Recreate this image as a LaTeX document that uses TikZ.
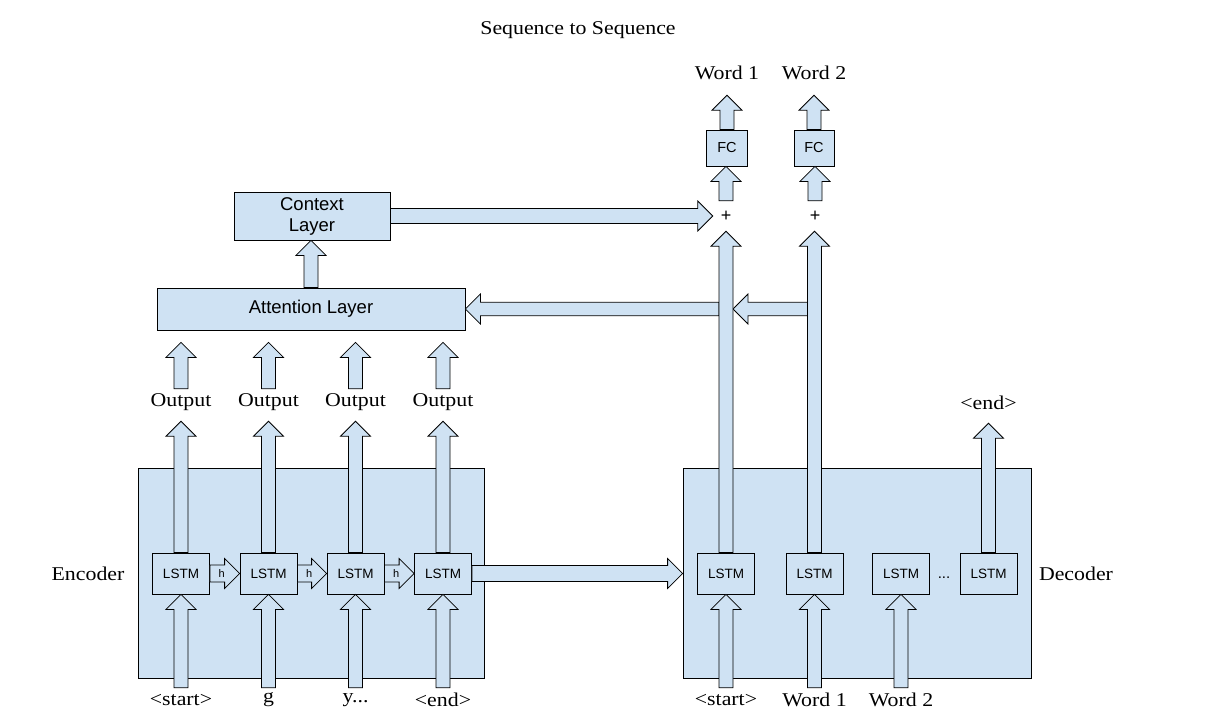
\documentclass[tikz,border=0pt]{standalone}
\usepackage{fontspec}
\setmainfont[FakeStretch=1.12]{Liberation Serif}
\setsansfont{Liberation Sans}
\usetikzlibrary{calc}
\definecolor{lb}{HTML}{CFE2F3}
\tikzset{
  fat/.style={draw=black, fill=lb, line width=0.8pt, line join=miter},
  region/.style={draw=black, fill=lb, line width=0.8pt, inner sep=0pt},
  block/.style={draw=black, fill=lb, line width=0.8pt, inner sep=0pt, align=center,
    font=\sffamily\fontsize{18.5}{21}\selectfont},
  lstm/.style={draw=black, fill=lb, line width=0.8pt, inner sep=0pt,
    minimum width=57pt, minimum height=41pt, font=\sffamily\fontsize{13.5}{15}\selectfont},
  fcbox/.style={draw=black, fill=lb, line width=0.8pt, inner sep=0pt,
    minimum width=41pt, minimum height=36pt, font=\sffamily\fontsize{14.5}{16}\selectfont},
  lbl/.style={inner sep=0pt, font=\fontsize{19.5}{22}\selectfont},
  small/.style={inner sep=0pt, font=\sffamily\fontsize{11}{12}\selectfont},
  plus/.style={inner sep=0pt, minimum width=26pt, minimum height=30pt,
    font=\sffamily\fontsize{18}{19}\selectfont},
}
\newcommand\fatup[3][7]{\draw[fat] let \p1=(#2), \p2=(#3) in
  (\x1-#1pt,\y1) -- (\x1-#1pt,\y2-15pt) -- (\x1-15pt,\y2-15pt) -- (\x1,\y2) --
  (\x1+15pt,\y2-15pt) -- (\x1+#1pt,\y2-15pt) -- (\x1+#1pt,\y1) -- cycle;}
\newcommand\fatright[3][8]{\draw[fat] let \p1=(#2), \p2=(#3) in
  (\x1,\y1+#1pt) -- (\x2-15pt,\y1+#1pt) -- (\x2-15pt,\y1+15pt) -- (\x2,\y1) --
  (\x2-15pt,\y1-15pt) -- (\x2-15pt,\y1-#1pt) -- (\x1,\y1-#1pt) -- cycle;}
\newcommand\fatleft[3][7]{\draw[fat] let \p1=(#2), \p2=(#3) in
  (\x1,\y1+#1pt) -- (\x2+15pt,\y1+#1pt) -- (\x2+15pt,\y1+15pt) -- (\x2,\y1) --
  (\x2+15pt,\y1-15pt) -- (\x2+15pt,\y1-#1pt) -- (\x1,\y1-#1pt) -- cycle;}
\begin{document}
\begin{tikzpicture}[x=1pt,y=-1pt]
\useasboundingbox (0,0) rectangle (1221,721);
\fill[white] (0,0) rectangle (1221,721);

% title
\node[lbl] (title) at (578,30) {Sequence to Sequence};

% encoder / decoder regions
\node[region, minimum width=346pt, minimum height=210pt] (enc) at (311,573) {};
\node[region, minimum width=348pt, minimum height=210pt] (dec) at (857,573) {};
\node[lbl] (enclbl) at (88,574) {Encoder};
\node[lbl] (declbl) at (1076,574) {Decoder};

% attention and context
\node[block, minimum width=308pt, minimum height=42pt] (att) at (311,309) {Attention Layer};
\node[block, minimum width=156pt, minimum height=48pt] (ctx) at (312,216) {Context\\Layer};

% encoder LSTMs
\foreach \i/\x in {1/181,2/268.5,3/355.5,4/443}{
  \node[lstm] (el\i) at (\x,573.5) {LSTM};
  \node[lbl, minimum height=38pt] (o\i) at (\x,402) {Output};
}
% decoder LSTMs
\foreach \i/\x in {1/726,2/814.5,3/901,4/988.5}{
  \node[lstm] (dl\i) at (\x,573.5) {LSTM};
}
\node[small, font=\sffamily\fontsize{15}{16}\selectfont] (dots) at (944,578) {...};

% input labels
\node[lbl, minimum height=24pt] (in1) at (181,700) {<start>};
\node[lbl, minimum height=24pt] (in2) at (268.5,700) {g};
\node[lbl, minimum height=24pt] (in3) at (355.5,700) {y...};
\node[lbl, minimum height=24pt] (in4) at (443,700) {<end>};
\node[lbl, minimum height=24pt] (din1) at (726,700) {<start>};
\node[lbl, minimum height=24pt] (din2) at (814.5,700) {Word 1};
\node[lbl, minimum height=24pt] (din3) at (901,700) {Word 2};
\node[lbl, minimum height=40pt] (dend) at (988.5,403) {<end>};

% top right
\node[plus] (plusA) at (726,216) {+};
\node[plus] (plusB) at (815,216) {+};
\node[fcbox] (fc1) at (727,148) {FC};
\node[fcbox, minimum width=40pt] (fc2) at (814,148) {FC};
\node[lbl, minimum height=44pt] (w1) at (727,73) {Word 1};
\node[lbl, minimum height=44pt] (w2) at (814,73) {Word 2};

% coordinates for free ends
\coordinate (a1s) at ([xshift=-7pt]dl1.north |- att.east);
\coordinate (a2s) at ([xshift=-7pt]dl2.north |- att.east);
\coordinate (a2t) at ([xshift=7pt]dl1.north |- att.east);
\foreach \i in {1,...,4}{
  \coordinate (ob\i) at ([yshift=-6pt]o\i.north);
  \coordinate (ot\i) at ([yshift=-12pt]o\i.north |- att.south);
}

% input arrows
\foreach \i in {1,...,4}{ \fatup{in\i.north}{el\i.south} }
\foreach \i in {1,...,3}{ \fatup{din\i.north}{dl\i.south} }

% h arrows
\foreach \a/\b in {1/2,2/3,3/4}{
  \fatright[8.5]{el\a.east}{el\b.west}
  \node[small, font=\sffamily\fontsize{11}{12}\selectfont] (h\a) at ($(el\a.east)!0.4!(el\b.west)$) {h};
}
% encoder -> decoder
\fatright[8]{el4.east}{dec.west}

% encoder outputs
\foreach \i in {1,...,4}{
  \fatup{el\i.north}{o\i.south}
  \fatup{ob\i}{ot\i}
}

% attention arrows (left)
\fatleft[6.7]{a1s}{att.east}
\fatleft[6.7]{a2s}{a2t}

% attention -> context
\fatup{att.north}{ctx.south}
% context -> plus
\fatright[7.5]{ctx.east}{plusA.west}

% decoder up arrows
\fatup{dl1.north}{plusA.south}
\fatup{dl2.north}{plusB.south}
\fatup{dl4.north}{dend.south}
\fatup{plusA.north}{fc1.south}
\fatup{plusB.north}{fc2.south}
\fatup{fc1.north}{w1.south}
\fatup{fc2.north}{w2.south}
\end{tikzpicture}
\end{document}
